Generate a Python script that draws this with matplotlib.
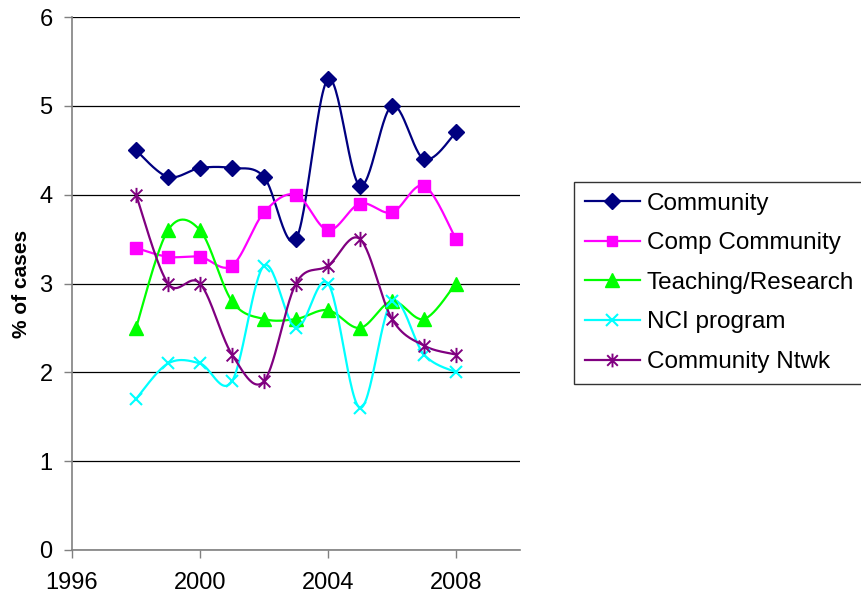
import numpy as np
import matplotlib
matplotlib.use("Agg")
import matplotlib.pyplot as plt
from matplotlib.path import Path

plt.rcParams['font.family'] = ['Liberation Sans', 'DejaVu Sans']

years = [1998, 1999, 2000, 2001, 2002, 2003, 2004, 2005, 2006, 2007, 2008]
community = [4.5, 4.2, 4.3, 4.3, 4.2, 3.5, 5.3, 4.1, 5.0, 4.4, 4.7]
comp_community = [3.4, 3.3, 3.3, 3.2, 3.8, 4.0, 3.6, 3.9, 3.8, 4.1, 3.5]
teaching_research = [2.5, 3.6, 3.6, 2.8, 2.6, 2.6, 2.7, 2.5, 2.8, 2.6, 3.0]
nci_program = [1.7, 2.1, 2.1, 1.9, 3.2, 2.5, 3.0, 1.6, 2.8, 2.2, 2.0]
community_ntwk = [4.0, 3.0, 3.0, 2.2, 1.9, 3.0, 3.2, 3.5, 2.6, 2.3, 2.2]

series_names = ["Community", "Comp Community", "Teaching/Research",
                "NCI program", "Community Ntwk"]
x_ticks = [1996, 2000, 2004, 2008]
y_ticks = [0, 1, 2, 3, 4, 5, 6]

# asterisk marker: an x with a vertical bar through it
star = Path([(-1, -1), (1, 1), (-1, 1), (1, -1), (0, -1.3), (0, 1.3)],
            [Path.MOVETO, Path.LINETO, Path.MOVETO, Path.LINETO,
             Path.MOVETO, Path.LINETO])

styles = [
    dict(color="#000080", marker="D", ms=8.5, mfc="#000080", mec="#000080"),
    dict(color="#FF00FF", marker="s", ms=8, mfc="#FF00FF", mec="#FF00FF"),
    dict(color="#00FF00", marker="^", ms=10.5, mfc="#00FF00", mec="#00FF00"),
    dict(color="#00FFFF", marker="x", ms=9, mew=1.5, mfc="none", mec="#00FFFF"),
    dict(color="#800080", marker=star, ms=11, mew=1.4, mfc="none", mec="#800080"),
]


def smooth(xs, ys, n=30):
    """Bezier smoothing through every point (Catmull-Rom style control points)."""
    p = np.column_stack([xs, ys]).astype(float)
    out = [p[0]]
    m = len(p)
    for i in range(m - 1):
        p0 = p[i - 1] if i > 0 else p[i]
        p1 = p[i]
        p2 = p[i + 1]
        p3 = p[i + 2] if i + 2 < m else p[i + 1]
        c1 = p1 + (p2 - p0) / 6.0
        c2 = p2 - (p3 - p1) / 6.0
        t = np.linspace(0, 1, n)[1:, None]
        seg = ((1 - t) ** 3) * p1 + 3 * ((1 - t) ** 2) * t * c1 \
            + 3 * (1 - t) * t ** 2 * c2 + t ** 3 * p2
        out.extend(seg)
    out = np.array(out)
    return out[:, 0], out[:, 1]


fig = plt.figure(figsize=(8.61, 6.05), dpi=100)
ax = fig.add_axes([72 / 861, 55 / 605, (520 - 72) / 861, (550 - 17) / 605])

all_series = [community, comp_community, teaching_research, nci_program, community_ntwk]
for name, vals, st in zip(series_names, all_series, styles):
    sx, sy = smooth(years, vals)
    ax.plot(sx, sy, color=st["color"], lw=1.6, zorder=3)
    ax.plot(years, vals, linestyle="none", marker=st["marker"], ms=st["ms"],
            mfc=st["mfc"], mec=st["mec"], mew=st.get("mew", 1.0), zorder=4)
    # legend proxy
    ax.plot([], [], color=st["color"], lw=1.6, marker=st["marker"],
            ms=st["ms"] * 0.9, mfc=st["mfc"], mec=st["mec"],
            mew=st.get("mew", 1.0), label=name)

ax.set_xlim(1996, 2010)
ax.set_ylim(0, 6)
ax.set_xticks(x_ticks)
ax.set_yticks(y_ticks)
ax.yaxis.grid(True, color="black", lw=0.9)
ax.set_axisbelow(True)
for s in ("top", "right"):
    ax.spines[s].set_visible(False)
ax.spines["left"].set_color("#808080")
ax.spines["bottom"].set_color("#808080")
ax.spines["left"].set_linewidth(1.2)
ax.spines["bottom"].set_linewidth(1.2)
ax.tick_params(axis="both", direction="out", length=6, color="#808080",
               labelsize=17, width=1.0)
ax.tick_params(axis="x", pad=10)
ax.tick_params(axis="y", pad=8)
ax.set_ylabel("% of cases", fontsize=15, fontweight="bold", labelpad=6)

leg = ax.legend(loc="upper left", bbox_to_anchor=(574 / 861, (605 - 182) / 605),
                bbox_transform=fig.transFigure, frameon=True, fancybox=False,
                edgecolor="black", fontsize=17.5, handlelength=2.25,
                handletextpad=0.3, labelspacing=0.72, borderpad=0.45,
                borderaxespad=0)
leg.get_frame().set_linewidth(1.0)

fig.savefig("out.png", dpi=100)
